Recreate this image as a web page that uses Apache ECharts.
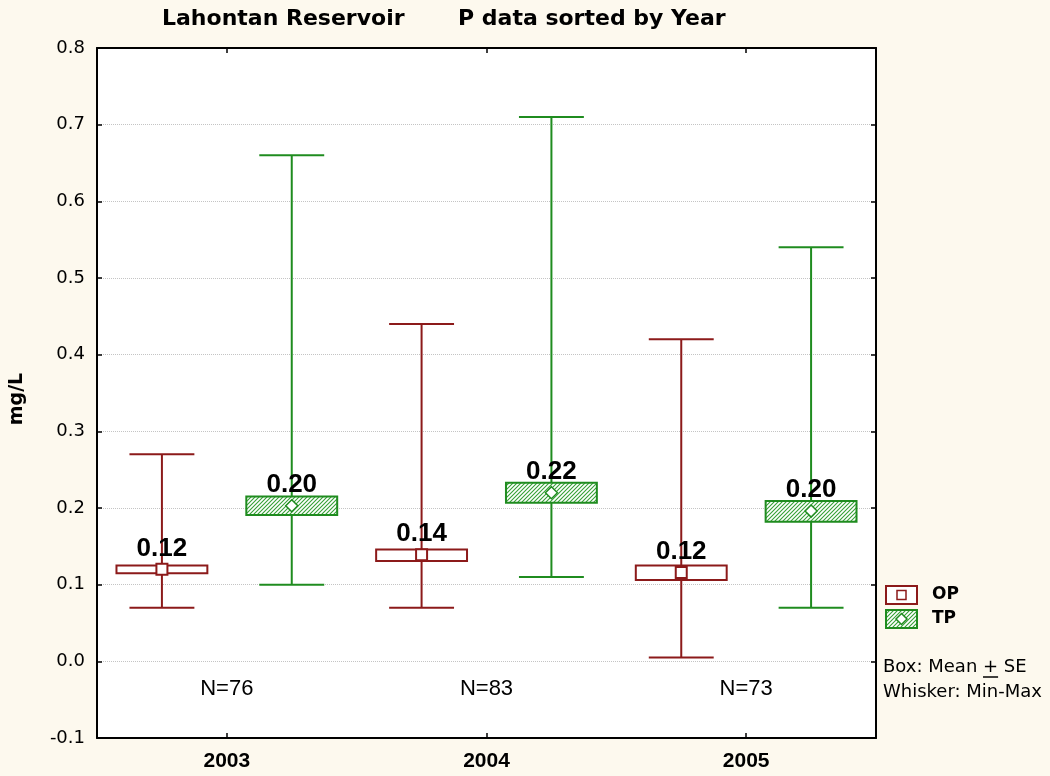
<!DOCTYPE html>
<html>
<head>
<meta charset="utf-8">
<title>Lahontan Reservoir - P data sorted by Year</title>
<script src="https://cdn.jsdelivr.net/npm/echarts@6/dist/echarts.min.js"></script>
<style>
  html, body { margin: 0; padding: 0; background: #fdf9ee; }
  #chart { width: 1050px; height: 776px; }
</style>
</head>
<body>
<div id="chart"></div>
<script>
// categories
var years = ['2003', '2004', '2005'];
var nCounts = [76, 83, 73];

// OP: whisker min/max, box = mean -/+ SE
var opMin  = [0.07, 0.07, 0.005];
var opLow  = [0.115, 0.131, 0.106];
var opMean = [0.120, 0.139, 0.116];
var opHigh = [0.125, 0.146, 0.125];
var opMax  = [0.27, 0.44, 0.42];

// TP
var tpMin  = [0.10, 0.11, 0.07];
var tpLow  = [0.191, 0.207, 0.182];
var tpMean = [0.203, 0.220, 0.196];
var tpHigh = [0.215, 0.233, 0.209];
var tpMax  = [0.66, 0.71, 0.54];

// value axis
var yMin = -0.1, yMax = 0.8, yStep = 0.1;

var OP_COLOR = '#8c1a1a';
var TP_COLOR = '#1f8c1f';

function hatch(color) {
  var c = document.createElement('canvas');
  c.width = 4; c.height = 4;
  var g = c.getContext('2d');
  g.fillStyle = '#fff';
  g.fillRect(0, 0, 4, 4);
  g.strokeStyle = color;
  g.lineWidth = 1.1;
  g.beginPath();
  g.moveTo(0, 4); g.lineTo(4, 0);
  g.moveTo(-1, 1); g.lineTo(1, -1);
  g.moveTo(3, 5); g.lineTo(5, 3);
  g.stroke();
  return c;
}
var tpFill = { image: hatch('#35a035'), repeat: 'repeat' };

function rows(mn, lo, mean, hi, mx) {
  return years.map(function (y, i) { return [i, mn[i], lo[i], mean[i], hi[i], mx[i]]; });
}

function markerShape(kind, cx, cy, color) {
  if (kind === 'square') {
    return { type: 'rect', shape: { x: cx - 5.5, y: cy - 5.5, width: 11, height: 11 },
      style: { fill: '#fff', stroke: color, lineWidth: 2 } };
  }
  return { type: 'polygon', shape: { points: [[cx, cy - 6], [cx + 6, cy], [cx, cy + 6], [cx - 6, cy]] },
    style: { fill: '#fff', stroke: color, lineWidth: 1.5 } };
}

function makeRender(color, side, kind, fill) {
  return function (params, api) {
    var cat = api.value(0);
    var band = api.size([1, 0])[0];
    var cx = api.coord([cat, 0])[0] + side * band * 0.25;
    var pMin = api.coord([cat, api.value(1)])[1];
    var pLow = api.coord([cat, api.value(2)])[1];
    var pMean = api.coord([cat, api.value(3)])[1];
    var pHigh = api.coord([cat, api.value(4)])[1];
    var pMax = api.coord([cat, api.value(5)])[1];
    var boxW = band * 0.35, capW = band * 0.25;
    var ls = { stroke: color, lineWidth: 2 };
    return {
      type: 'group',
      children: [
        { type: 'line', shape: { x1: cx, y1: pMax, x2: cx, y2: pMin }, style: ls },
        { type: 'line', shape: { x1: cx - capW / 2, y1: pMax, x2: cx + capW / 2, y2: pMax }, style: ls },
        { type: 'line', shape: { x1: cx - capW / 2, y1: pMin, x2: cx + capW / 2, y2: pMin }, style: ls },
        { type: 'rect', shape: { x: cx - boxW / 2, y: pHigh, width: boxW, height: pLow - pHigh },
          style: { fill: fill, stroke: color, lineWidth: 2 } },
        markerShape(kind, cx, pMean, color),
        { type: 'text', style: { text: api.value(3).toFixed(2), x: cx, y: pMean - 21,
          align: 'center', verticalAlign: 'middle',
          font: 'bold 26px "Liberation Sans", Arial, sans-serif', fill: '#000' } }
      ]
    };
  };
}

function renderN(params, api) {
  var p = api.coord([api.value(0), -0.036]);
  return { type: 'text', style: { text: 'N=' + api.value(1), x: p[0], y: p[1],
    align: 'center', verticalAlign: 'middle',
    font: '22px "Liberation Sans", Arial, sans-serif', fill: '#000' } };
}

// underline position for the "+" in the note
var mctx = document.createElement('canvas').getContext('2d');
mctx.font = '18px "DejaVu Sans"';
var plusX = 883 + mctx.measureText('Box: Mean ').width;
var plusW = mctx.measureText('+').width;

var axisBlack = { color: '#000', width: 2 };
var tickIn = { show: true, inside: true, alignWithLabel: true, length: 5, lineStyle: { color: '#000', width: 1.5 } };

var chart = echarts.init(document.getElementById('chart'));
chart.setOption({
  backgroundColor: '#fdf9ee',
  animation: false,
  grid: { left: 97, right: 174, top: 48, bottom: 38, show: true, backgroundColor: '#fff', borderWidth: 0 },
  xAxis: [{
    type: 'category', data: years, position: 'bottom',
    axisLine: { onZero: false, lineStyle: axisBlack },
    axisTick: tickIn,
    axisLabel: { fontFamily: '"Liberation Sans", Arial', fontWeight: 'bold', fontSize: 21, color: '#000', margin: 13 },
    splitLine: { show: false }
  }, {
    type: 'category', data: years, position: 'top',
    axisLine: { onZero: false, lineStyle: axisBlack },
    axisTick: tickIn,
    axisLabel: { show: false },
    splitLine: { show: false }
  }],
  yAxis: [{
    type: 'value', min: yMin, max: yMax, interval: yStep, position: 'left',
    axisLine: { show: true, onZero: false, lineStyle: axisBlack },
    axisTick: tickIn,
    axisLabel: {
      fontFamily: '"DejaVu Sans"', fontSize: 18, color: '#000', margin: 12,
      formatter: function (v) { return (Math.abs(v) < 1e-9 ? 0 : v).toFixed(1); }
    },
    splitLine: { show: true, lineStyle: { color: '#c4c4c4', type: 'dotted', width: 1 } }
  }, {
    type: 'value', min: yMin, max: yMax, interval: yStep, position: 'right',
    axisLine: { show: true, onZero: false, lineStyle: axisBlack },
    axisTick: tickIn,
    axisLabel: { show: false },
    splitLine: { show: false }
  }],
  series: [{
    name: 'OP', type: 'custom', xAxisIndex: 0, yAxisIndex: 0,
    renderItem: makeRender(OP_COLOR, -1, 'square', '#fff'),
    encode: { x: 0, y: [1, 2, 3, 4, 5] },
    data: rows(opMin, opLow, opMean, opHigh, opMax)
  }, {
    name: 'TP', type: 'custom', xAxisIndex: 0, yAxisIndex: 0,
    renderItem: makeRender(TP_COLOR, 1, 'diamond', tpFill),
    encode: { x: 0, y: [1, 2, 3, 4, 5] },
    data: rows(tpMin, tpLow, tpMean, tpHigh, tpMax)
  }, {
    name: 'N', type: 'custom', xAxisIndex: 0, yAxisIndex: 0,
    renderItem: renderN,
    encode: { x: 0, y: -1 },
    data: years.map(function (y, i) { return [i, nCounts[i]]; })
  }],
  graphic: [
    { type: 'text', left: 162, top: 8, style: { text: 'Lahontan Reservoir',
      font: 'bold 22px "DejaVu Sans"', fill: '#000' } },
    { type: 'text', left: 458, top: 8, style: { text: 'P data sorted by Year',
      font: 'bold 22px "DejaVu Sans"', fill: '#000' } },
    { type: 'text', x: 17, y: 399, rotation: Math.PI / 2, style: { text: 'mg/L',
      font: 'bold 19px "DejaVu Sans"', fill: '#000', align: 'center', verticalAlign: 'middle' } },
    // legend
    { type: 'rect', shape: { x: 886, y: 586, width: 31, height: 18 }, style: { fill: '#fff', stroke: OP_COLOR, lineWidth: 2 } },
    { type: 'rect', shape: { x: 897, y: 590.5, width: 9, height: 9 }, style: { fill: '#fff', stroke: OP_COLOR, lineWidth: 1.5 } },
    { type: 'rect', shape: { x: 886, y: 610, width: 31, height: 18 }, style: { fill: tpFill, stroke: TP_COLOR, lineWidth: 2 } },
    { type: 'polygon', shape: { points: [[901.5, 613.5], [907, 619], [901.5, 624.5], [896, 619]] },
      style: { fill: '#fff', stroke: TP_COLOR, lineWidth: 1.5 } },
    { type: 'text', x: 932, y: 595, style: { text: 'OP', font: 'bold 17px "DejaVu Sans"', fill: '#000', verticalAlign: 'middle' } },
    { type: 'text', x: 932, y: 619, style: { text: 'TP', font: 'bold 17px "DejaVu Sans"', fill: '#000', verticalAlign: 'middle' } },
    { type: 'text', x: 883, y: 667, style: { text: 'Box: Mean + SE', font: '18px "DejaVu Sans"', fill: '#000', verticalAlign: 'middle' } },
    { type: 'line', shape: { x1: plusX, y1: 677, x2: plusX + plusW, y2: 677 }, style: { stroke: '#000', lineWidth: 1.5 } },
    { type: 'text', x: 883, y: 692, style: { text: 'Whisker: Min-Max', font: '18px "DejaVu Sans"', fill: '#000', verticalAlign: 'middle' } }
  ]
});
</script>
</body>
</html>
